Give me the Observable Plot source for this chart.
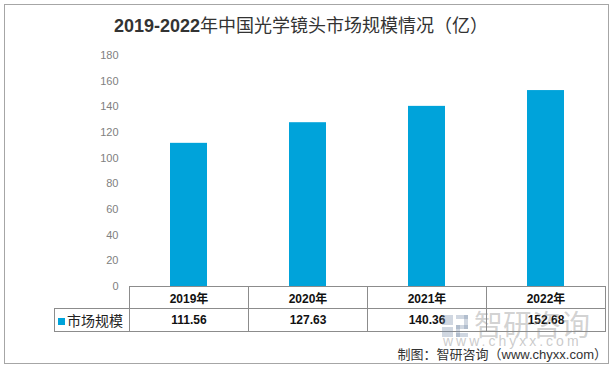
<!DOCTYPE html>
<html><head><meta charset="utf-8">
<script src="https://cdn.jsdelivr.net/npm/d3@7"></script>
<script src="https://cdn.jsdelivr.net/npm/@observablehq/plot@0.6"></script>
<style>
body{margin:0;background:#fff;}
#wrap{position:relative;width:613px;height:371px;overflow:hidden;font-family:"Liberation Sans","Noto Sans CJK SC",sans-serif;background:#fff;}
#wrap svg{position:absolute;left:0;top:0;}
#frame{position:absolute;left:4px;top:4px;width:603px;height:358px;border:1px solid #a6a6a6;pointer-events:none;}
#title{position:absolute;left:0;width:602px;top:14px;text-align:center;font-size:18px;line-height:24px;color:#333;white-space:nowrap;}
#title b{font-weight:bold;}
#tbl{position:absolute;top:286px;border-collapse:collapse;table-layout:fixed;font-size:12px;color:#111;}
#tbl td{border:1px solid #8c8c8c;padding:0;text-align:center;font-weight:bold;white-space:nowrap;overflow:hidden;}
#tbl tr.h td{height:21px;}
#tbl tr.v td{height:22px;}
#tbl td.blank{border:none;}
#tbl td.leg{text-align:left;font-weight:normal;font-size:14px;color:#222;padding-left:3px;}
#tbl td.leg span.sw{display:inline-block;width:7px;height:7px;margin-right:2px;vertical-align:1px;}
#wm{position:absolute;left:442px;top:308px;color:rgba(140,140,140,0.4);font-family:"Noto Sans CJK SC",sans-serif;font-size:29px;line-height:30px;white-space:nowrap;pointer-events:none;}
#wm .logo{display:inline-block;width:26px;height:22px;margin-right:6px;vertical-align:-1px;position:relative;}
#wm .logo i{position:absolute;background:rgba(120,140,170,0.35);}
#wm2{position:absolute;left:443px;top:335px;color:rgba(150,150,150,0.5);font-family:"Liberation Sans",sans-serif;font-size:14px;line-height:12px;letter-spacing:3px;white-space:nowrap;pointer-events:none;}
#foot{position:absolute;right:6px;top:348px;font-size:13px;line-height:13px;color:#333;white-space:nowrap;}
</style>
</head><body>
<div id="wrap"></div>
<script>
const titleBold = "2019-2022";
const titleRest = "年中国光学镜头市场规模情况（亿）";
const years = ["2019年", "2020年", "2021年", "2022年"];
const values = [111.56, 127.63, 140.36, 152.68];
const seriesName = "市场规模";
const yTicks = [0, 20, 40, 60, 80, 100, 120, 140, 160, 180];
const barColor = "#00a3da";
const source = "制图：智研咨询（www.chyxx.com）";

const data = years.map((y, i) => ({year: y, value: values[i]}));

const chart = Plot.plot({
  width: 613, height: 371,
  marginTop: 55, marginBottom: 85, marginLeft: 128, marginRight: 7,
  style: {fontFamily: "Liberation Sans, sans-serif", fontSize: "11px", background: "transparent"},
  x: {domain: years, padding: 0, axis: null},
  y: {domain: [0, 180]},
  marks: [
    Plot.axisY(yTicks, {tickSize: 0, tickPadding: 10, fill: "#808080", label: null, fontSize: 11}),
    Plot.barY(data, {x: "year", y: "value", fill: barColor, insetLeft: 41, insetRight: 41})
  ]
});

const wrap = document.getElementById("wrap");
wrap.appendChild(chart);

const frame = document.createElement("div"); frame.id = "frame"; wrap.appendChild(frame);

const title = document.createElement("div"); title.id = "title";
const b = document.createElement("b"); b.textContent = titleBold;
title.appendChild(b); title.appendChild(document.createTextNode(titleRest));
wrap.appendChild(title);

// table aligned on the plot's own x scale
const xs = chart.scale("x");
const step = xs.step;
const x0 = xs.apply(years[0]);
const legW = 75;
const tbl = document.createElement("table"); tbl.id = "tbl";
tbl.style.left = (x0 - legW) + "px";
tbl.style.width = (legW + step * years.length) + "px";
const cg = document.createElement("colgroup");
[legW, ...years.map(() => step)].forEach(w => { const c = document.createElement("col"); c.style.width = w + "px"; cg.appendChild(c); });
tbl.appendChild(cg);
const tr1 = document.createElement("tr"); tr1.className = "h";
const bl = document.createElement("td"); bl.className = "blank"; tr1.appendChild(bl);
years.forEach(y => { const td = document.createElement("td"); td.textContent = y; tr1.appendChild(td); });
const tr2 = document.createElement("tr"); tr2.className = "v";
const lg = document.createElement("td"); lg.className = "leg";
const sw = document.createElement("span"); sw.className = "sw"; sw.style.background = barColor;
lg.appendChild(sw); lg.appendChild(document.createTextNode(seriesName)); tr2.appendChild(lg);
values.forEach(v => { const td = document.createElement("td"); td.textContent = v.toFixed(2); tr2.appendChild(td); });
tbl.appendChild(tr1); tbl.appendChild(tr2);
wrap.appendChild(tbl);

// watermark
const wm = document.createElement("div"); wm.id = "wm";
const logo = document.createElement("span"); logo.className = "logo";
[[0,0,11,10],[0,12,11,10],[14,0,12,4],[22,0,4,14],[14,10,12,4],[14,10,4,12],[14,18,12,4]].forEach(([l,t,w,h]) => {
  const i = document.createElement("i"); i.style.left = l + "px"; i.style.top = t + "px"; i.style.width = w + "px"; i.style.height = h + "px"; logo.appendChild(i);
});
wm.appendChild(logo); wm.appendChild(document.createTextNode("智研咨询"));
wrap.appendChild(wm);
const wm2 = document.createElement("div"); wm2.id = "wm2"; wm2.textContent = "www.chyxx.com"; wrap.appendChild(wm2);

const foot = document.createElement("div"); foot.id = "foot"; foot.textContent = source; wrap.appendChild(foot);
</script>
</body></html>
